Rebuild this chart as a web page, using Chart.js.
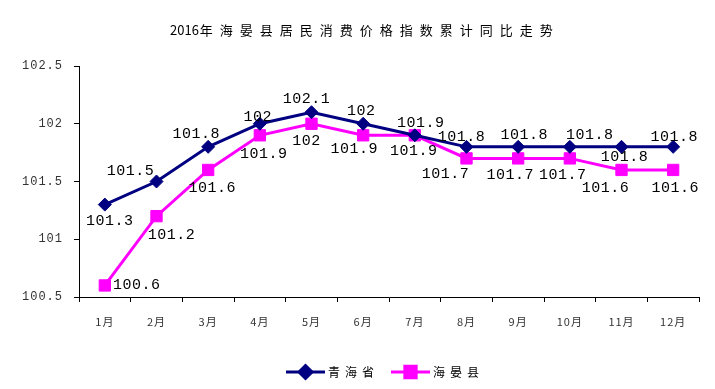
<!DOCTYPE html>
<html><head><meta charset="utf-8">
<script src="https://cdn.jsdelivr.net/npm/chart.js@4/dist/chart.umd.min.js"></script>
<style>html,body{margin:0;padding:0;background:#fff}#wrap{width:715px;height:389px;position:relative}</style>
</head><body><div id="wrap"><canvas id="c" width="715" height="389"></canvas></div>
<script>
const titleYear = '2016';
const titleRest = '年海晏县居民消费价格指数累计同比走势';
const months = ['1月','2月','3月','4月','5月','6月','7月','8月','9月','10月','11月','12月'];
const seriesNames = ['青海省','海晏县'];
const qinghai = [101.3,101.5,101.8,102,102.1,102,101.9,101.8,101.8,101.8,101.8,101.8];
const haiyan = [100.6,101.2,101.6,101.9,102,101.9,101.9,101.7,101.7,101.7,101.6,101.6];
const yTicks = [100.5,101,101.5,102,102.5];

// label placement (style only): offsets of label centre from the point
const qhLabelOffsets = [[5,16],[-26,-10],[-12,-13],[-2,-7],[-5,-13],[-2,-13],[6,-12],[-5,-10],[6,-12],[20,-12],[3,10],[1,-10]];
const hyLabelOffsets = [[32,0],[15,19],[4,18],[4,19],[-5,17],[-9,14],[-1,16],[-21,16],[-8,17],[-7,17],[-16,18],[2,18]];
const labelOffsets = [qhLabelOffsets, hyLabelOffsets];

const textPlugin = {
  id: 'txt',
  beforeDraw(chart) { chart.ctx.letterSpacing = '1px'; },
  afterDatasetsDraw(chart) {
    const ctx = chart.ctx;
    ctx.save();
    ctx.font = '15px "Liberation Mono"';
    ctx.letterSpacing = '0.5px';
    ctx.fillStyle = '#000';
    ctx.textAlign = 'center';
    ctx.textBaseline = 'middle';
    chart.data.datasets.forEach((ds, di) => {
      const meta = chart.getDatasetMeta(di);
      meta.data.forEach((pt, i) => {
        const off = labelOffsets[di][i];
        ctx.fillText(String(ds.data[i]), pt.x + off[0], pt.y + off[1]);
      });
    });
    ctx.restore();
  },
  afterDraw(chart) {
    const ctx = chart.ctx;
    ctx.save();
    // title
    ctx.fillStyle = '#000';
    ctx.textBaseline = 'middle';
    ctx.textAlign = 'left';
    ctx.font = '13px "Noto Sans CJK SC"';
    ctx.letterSpacing = '0px';
    let x = 170;
    ctx.fillText(titleYear, x, 30);
    x += ctx.measureText(titleYear).width + 1;
    ctx.letterSpacing = '7px';
    ctx.fillText(titleRest, x, 30);
    // legend
    const ly = 372;
    let lx = 286;
    ctx.font = '12px "Noto Sans CJK SC"';
    ctx.letterSpacing = '5px';
    chart.data.datasets.forEach((ds) => {
      ctx.strokeStyle = ds.borderColor;
      ctx.lineWidth = 3;
      ctx.beginPath();
      ctx.moveTo(lx, ly);
      ctx.lineTo(lx + 39, ly);
      ctx.stroke();
      ctx.fillStyle = ds.pointBackgroundColor;
      ctx.strokeStyle = ds.pointBorderColor;
      Chart.helpers.drawPoint(ctx, {pointStyle: ds.pointStyle, radius: ds.pointRadius, rotation: 0, borderWidth: 1}, lx + 19.5, ly);
      ctx.fillStyle = '#000';
      ctx.fillText(ds.label, lx + 42, ly);
      lx += 42 + ctx.measureText(ds.label).width + 12;
    });
    ctx.restore();
  }
};

new Chart(document.getElementById('c'), {
  type: 'line',
  data: {
    labels: months,
    datasets: [
      {
        label: seriesNames[0], data: qinghai,
        borderColor: '#000080', backgroundColor: '#000080',
        pointBackgroundColor: '#000080', pointBorderColor: '#000080',
        borderWidth: 3, pointStyle: 'rectRot', pointRadius: 6.5, pointBorderWidth: 1,
        tension: 0, fill: false
      },
      {
        label: seriesNames[1], data: haiyan,
        borderColor: '#FF00FF', backgroundColor: '#FF00FF',
        pointBackgroundColor: '#FF00FF', pointBorderColor: '#FF00FF',
        borderWidth: 3, pointStyle: 'rect', pointRadius: 8, pointBorderWidth: 1,
        tension: 0, fill: false
      }
    ]
  },
  options: {
    responsive: false,
    animation: false,
    devicePixelRatio: 1,
    layout: { padding: { left: 0, top: 66, right: 16, bottom: 0 } },
    plugins: {
      legend: { display: false },
      title: { display: false },
      tooltip: { enabled: false }
    },
    scales: {
      x: {
        offset: true,
        grid: { display: true, drawOnChartArea: false, offset: true, tickLength: 5, color: '#000', lineWidth: 1 },
        border: { display: true, color: '#000', width: 1 },
        ticks: { color: '#333', font: { family: '"Noto Sans CJK SC"', size: 11 }, padding: 13, maxRotation: 0, autoSkip: false },
        afterFit(scale) { scale.height = 92; }
      },
      y: {
        min: yTicks[0], max: yTicks[yTicks.length - 1],
        afterBuildTicks(scale) { scale.ticks = yTicks.map(v => ({ value: v })); },
        grid: { display: true, drawOnChartArea: false, tickLength: 5, color: '#000', lineWidth: 1 },
        border: { display: true, color: '#000', width: 1 },
        ticks: {
          color: '#333', font: { family: '"Liberation Mono"', size: 12 }, padding: 11,
          callback: (v) => String(Number(v.toFixed(1)))
        },
        afterFit(scale) { scale.width = 79; }
      }
    }
  },
  plugins: [textPlugin]
});
</script>
</body></html>
